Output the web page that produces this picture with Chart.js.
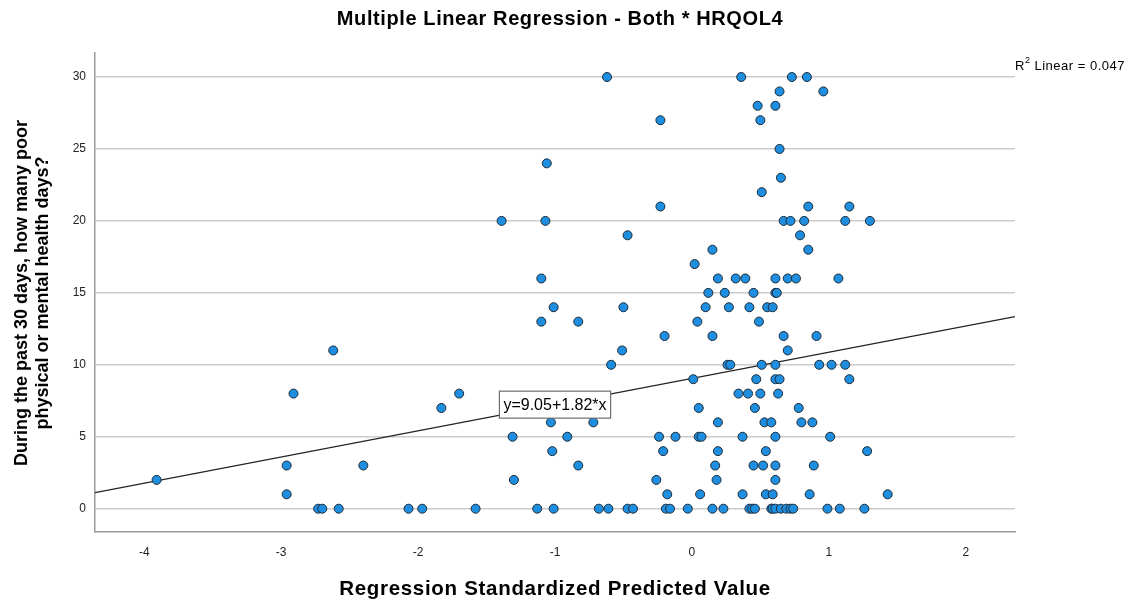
<!DOCTYPE html>
<html>
<head>
<meta charset="utf-8">
<script src="https://cdn.jsdelivr.net/npm/chart.js@4.4.1/dist/chart.umd.min.js"></script>
<style>
  body { margin: 0; background: #fff; }
  #wrap { width: 1133px; height: 600px; }
</style>
</head>
<body>
<div id="wrap"><canvas id="mycanvas" width="1133" height="600"></canvas></div>
<script>
var chartTitle = "Multiple Linear Regression - Both * HRQOL4";
var xTitle = "Regression Standardized Predicted Value";
var yTitle = ["During the past 30 days, how many poor", "physical or mental health days?"];
var xTicks = [-4, -3, -2, -1, 0, 1, 2];
var yTicks = [0, 5, 10, 15, 20, 25, 30];
var xRange = [-4.36, 2.36];
var yRange = [-1.62, 31.67];

// fit line shown in the picture
var fitIntercept = 9.05;
var fitSlope = 1.82;
var fitLabelX = -1.0;
var rSquared = "0.047";

// regression standardized predicted value (x) and HRQOL4 days (y), one row per y level
var predValue = [
  -0.62, 0.36, 0.73, 0.84,
  0.64, 0.96,
  0.48, 0.61,
  -0.23, 0.50,
  0.64,
  -1.06,
  0.65,
  0.51,
  -0.23, 0.85, 1.15,
  -1.39, -1.07, 0.67, 0.72, 0.82, 1.12, 1.30,
  -0.47, 0.79,
  0.15, 0.85,
  0.02,
  -1.10, 0.19, 0.32, 0.39, 0.61, 0.70, 0.76, 1.07,
  0.12, 0.24, 0.45, 0.61, 0.62,
  -1.01, -0.50, 0.10, 0.27, 0.42, 0.55, 0.59,
  -1.10, -0.83, 0.04, 0.49,
  -0.20, 0.15, 0.67, 0.91,
  -2.62, -0.51, 0.70,
  -0.59, 0.26, 0.28, 0.51, 0.61, 0.93, 1.02, 1.12,
  0.01, 0.47, 0.61, 0.64, 1.15,
  -2.91, -1.70, 0.34, 0.41, 0.50, 0.63,
  -1.83, 0.05, 0.46, 0.78,
  -1.03, -0.72, 0.19, 0.53, 0.58, 0.80, 0.88,
  -1.31, -0.91, -0.24, -0.12, 0.05, 0.07, 0.37, 0.61, 1.01,
  -1.02, -0.21, 0.19, 0.54, 1.28,
  -2.96, -2.40, -0.83, 0.17, 0.45, 0.52, 0.61, 0.89,
  -3.91, -1.30, -0.26, 0.18, 0.61,
  -2.96, -0.18, 0.06, 0.37, 0.54, 0.59, 0.86, 1.43,
  -2.73, -2.70, -2.58, -2.07, -1.97, -1.58, -1.13, -1.01, -0.68, -0.61,
  -0.47, -0.43, -0.19, -0.16, -0.03, 0.15, 0.23, 0.42, 0.44, 0.46,
  0.58, 0.59, 0.61, 0.65, 0.69, 0.72, 0.74, 0.99, 1.08, 1.26
];
var poorDays = [
  30, 30, 30, 30,
  29, 29,
  28, 28,
  27, 27,
  25,
  24,
  23,
  22,
  21, 21, 21,
  20, 20, 20, 20, 20, 20, 20,
  19, 19,
  18, 18,
  17,
  16, 16, 16, 16, 16, 16, 16, 16,
  15, 15, 15, 15, 15,
  14, 14, 14, 14, 14, 14, 14,
  13, 13, 13, 13,
  12, 12, 12, 12,
  11, 11, 11,
  10, 10, 10, 10, 10, 10, 10, 10,
  9, 9, 9, 9, 9,
  8, 8, 8, 8, 8, 8,
  7, 7, 7, 7,
  6, 6, 6, 6, 6, 6, 6,
  5, 5, 5, 5, 5, 5, 5, 5, 5,
  4, 4, 4, 4, 4,
  3, 3, 3, 3, 3, 3, 3, 3,
  2, 2, 2, 2, 2,
  1, 1, 1, 1, 1, 1, 1, 1,
  0, 0, 0, 0, 0, 0, 0, 0, 0, 0,
  0, 0, 0, 0, 0, 0, 0, 0, 0, 0,
  0, 0, 0, 0, 0, 0, 0, 0, 0, 0
];

var FONT = '"Liberation Sans", Arial, sans-serif';

var points = [];
for (var i = 0; i < predValue.length; i++) {
  points.push({ x: predValue[i], y: poorDays[i] });
}
var fitLine = [
  { x: xRange[0], y: fitIntercept + fitSlope * xRange[0] },
  { x: xRange[1], y: fitIntercept + fitSlope * xRange[1] }
];

var textPlugin = {
  id: 'spssText',
  afterDraw: function(chart) {
    var ctx = chart.ctx;
    var xs = chart.scales.x, ys = chart.scales.y;
    ctx.save();
    ctx.fillStyle = '#000';
    ctx.textBaseline = 'middle';
    ctx.textAlign = 'center';

    ctx.font = 'bold 20px ' + FONT;
    ctx.letterSpacing = '0.6px';
    ctx.fillText(chartTitle, 560, 19);
    ctx.font = 'bold 20.5px ' + FONT;
    ctx.letterSpacing = '0.7px';
    ctx.fillText(xTitle, 555, 589);
    ctx.letterSpacing = '0px';

    ctx.font = 'bold 18px ' + FONT;
    ctx.save();
    ctx.translate(22, 293);
    ctx.rotate(-Math.PI / 2);
    ctx.fillText(yTitle[0], 0, 0);
    ctx.restore();
    ctx.save();
    ctx.translate(43, 293);
    ctx.rotate(-Math.PI / 2);
    ctx.fillText(yTitle[1], 0, 0);
    ctx.restore();

    // R2 label
    ctx.textAlign = 'left';
    ctx.letterSpacing = '0.5px';
    ctx.font = '13px ' + FONT;
    var rx = 1015, ry = 66;
    ctx.fillText('R', rx, ry);
    rx += ctx.measureText('R').width;
    ctx.font = '9px ' + FONT;
    ctx.fillText('2', rx, ry - 5);
    rx += ctx.measureText('2').width;
    ctx.font = '13px ' + FONT;
    ctx.fillText(' Linear = ' + rSquared, rx, ry);
    ctx.letterSpacing = '0px';

    // fit label box
    var label = 'y=' + fitIntercept.toFixed(2) + '+' + fitSlope.toFixed(2) + '*x';
    ctx.font = '16px ' + FONT;
    var w = ctx.measureText(label).width + 8;
    var h = 27;
    var cx = xs.getPixelForValue(fitLabelX);
    var cy = ys.getPixelForValue(fitIntercept + fitSlope * fitLabelX);
    ctx.fillStyle = '#fff';
    ctx.fillRect(cx - w / 2, cy - h / 2, w, h);
    ctx.strokeStyle = '#6e6e6e';
    ctx.lineWidth = 1.2;
    ctx.strokeRect(cx - w / 2, cy - h / 2, w, h);
    ctx.fillStyle = '#000';
    ctx.textAlign = 'center';
    ctx.fillText(label, cx, cy + 1);
    ctx.restore();
  }
};

var ctx = document.getElementById('mycanvas');
var chart = new Chart(ctx, {
  type: 'scatter',
  data: {
    datasets: [
      {
        label: 'HRQOL4',
        data: points,
        backgroundColor: '#1e8fe0',
        borderColor: '#1d2a36',
        borderWidth: 1,
        pointRadius: 4.5,
        pointHoverRadius: 4.5
      },
      {
        label: 'Fit',
        type: 'line',
        data: fitLine,
        borderColor: '#222',
        borderWidth: 1.2,
        pointRadius: 0,
        fill: false
      }
    ]
  },
  plugins: [textPlugin],
  options: {
    responsive: false,
    animation: false,
    events: [],
    layout: { padding: { left: 0, right: 118, top: 53, bottom: 0 } },
    scales: {
      x: {
        type: 'linear',
        min: xRange[0],
        max: xRange[1],
        afterFit: function(scale) { scale.height = 68; },
        afterBuildTicks: function(scale) {
          scale.ticks = xTicks.map(function(v) { return { value: v }; });
        },
        grid: { display: false, drawTicks: false },
        border: { display: true, color: '#9a9a9a', width: 1.5 },
        ticks: {
          padding: 13,
          color: '#222',
          font: { family: FONT, size: 12 },
          callback: function(v) { return v; }
        }
      },
      y: {
        type: 'linear',
        min: yRange[0],
        max: yRange[1],
        afterFit: function(scale) { scale.width = 95; },
        afterBuildTicks: function(scale) {
          scale.ticks = yTicks.map(function(v) { return { value: v }; });
        },
        grid: { color: '#cccccc', lineWidth: 1.5, drawTicks: false },
        border: { display: true, color: '#9a9a9a', width: 1.5 },
        ticks: {
          padding: 9,
          color: '#222',
          font: { family: FONT, size: 12 },
          callback: function(v) { return v; }
        }
      }
    },
    plugins: {
      legend: { display: false },
      title: { display: false },
      tooltip: { enabled: false }
    }
  }
});
</script>
</body>
</html>
